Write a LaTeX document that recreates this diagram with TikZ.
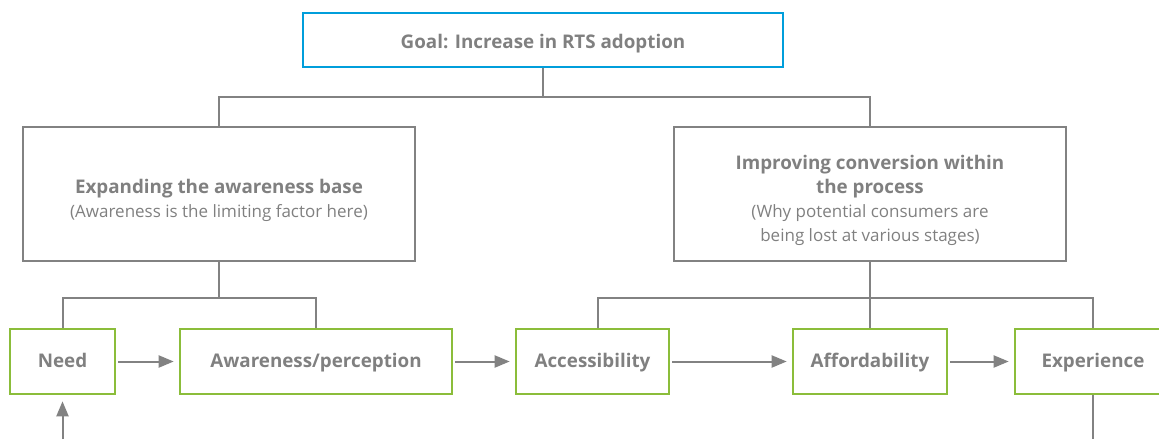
\documentclass[tikz,border=0pt]{standalone}
\usepackage{fontspec}
\setmainfont{Open Sans}[Ligatures=NoCommon]
\usetikzlibrary{arrows.meta,positioning,calc}
\definecolor{TextGray}{RGB}{128,128,128}
\definecolor{LineGray}{RGB}{130,130,130}
\definecolor{GoalBlue}{RGB}{0,158,219}
\definecolor{StageGreen}{RGB}{139,189,58}
\newcommand{\headfont}{\fontsize{18.8}{24}\selectfont\bfseries}
\newcommand{\topgap}{\rule{0pt}{27.3pt}}
\tikzset{
	>={Triangle[length=15pt,width=12pt]},
	box/.style={draw, rectangle, inner sep=0pt, align=center, text=TextGray,
		font=\fontsize{17}{24}\selectfont},
	goalbox/.style={box, draw=GoalBlue, line width=2.6pt, font=\headfont,
		text height=22.4pt, text depth=5pt},
	pillar/.style={box, draw=LineGray, line width=2.6pt},
	stage/.style={box, draw=StageGreen, line width=2.6pt, font=\headfont,
		text height=17.4pt, text depth=5pt},
	link/.style={LineGray, line width=2pt},
	flow/.style={link, ->, shorten <=2pt, shorten >=5pt},
}
\begin{document}
\begin{tikzpicture}[x=1pt, y=-1pt]
	\useasboundingbox (0,0) rectangle (1159,439);
	
	% Goal
	\node[goalbox, minimum width=480pt, minimum height=54pt] (goal) at (543,40)
	{Goal: Increase in RTS adoption};
	
	% Two levers
	\node[pillar, minimum width=392pt, minimum height=134pt] (expand) at (219,194)
	{\topgap{\headfont Expanding the awareness base}\\(Awareness is the limiting factor here)};
	\node[pillar, minimum width=392pt, minimum height=134pt] (convert) at (870,194)
	{\topgap{\headfont Improving conversion within}\\{\headfont the process}\\(Why potential consumers are\\being lost at various stages)};
	
	% Stages of the funnel
	\node[stage, minimum width=105pt, minimum height=65pt] (need) at (62.5,361.5) {Need};
	\node[stage, minimum width=272pt, minimum height=65pt] (aware) at (316,361.5) {Awareness/perception};
	\node[stage, minimum width=153pt, minimum height=65pt] (access) at (592.5,361.5) {Accessibility};
	\node[stage, minimum width=154pt, minimum height=65pt] (afford) at (870,361.5) {Affordability};
	\node[stage, minimum width=156pt, minimum height=65pt] (exper) at (1093,361.5) {Experience};
	
	% Tree connectors
	\draw[link] (goal.south) -- ++(0,29) -| (expand.north);
	\draw[link] (goal.south) -- ++(0,29) -| (convert.north);
	\draw[link] (expand.south) -- ++(0,36) -| (need.north);
	\draw[link] (expand.south) -- ++(0,36) -| (aware.north);
	\draw[link] (convert.south) -- (afford.north);
	\draw[link] (convert.south) -- ++(0,36) -| ([xshift=5pt]access.north);
	\draw[link] (convert.south) -- ++(0,36) -| (exper.north);
	
	% Flow between stages
	\draw[flow] (need) -- (aware);
	\draw[flow] (aware) -- (access);
	\draw[flow] (access) -- (afford);
	\draw[flow] (afford) -- (exper);
	
	% Loose ends at the bottom
	\coordinate (needin) at (62.5,439);
	\coordinate (experout) at (1093,439);
	\draw[link, ->, shorten >=6pt] (needin) -- (need.south);
	\draw[link] (exper.south) -- (experout);
	
\end{tikzpicture}
\end{document}
